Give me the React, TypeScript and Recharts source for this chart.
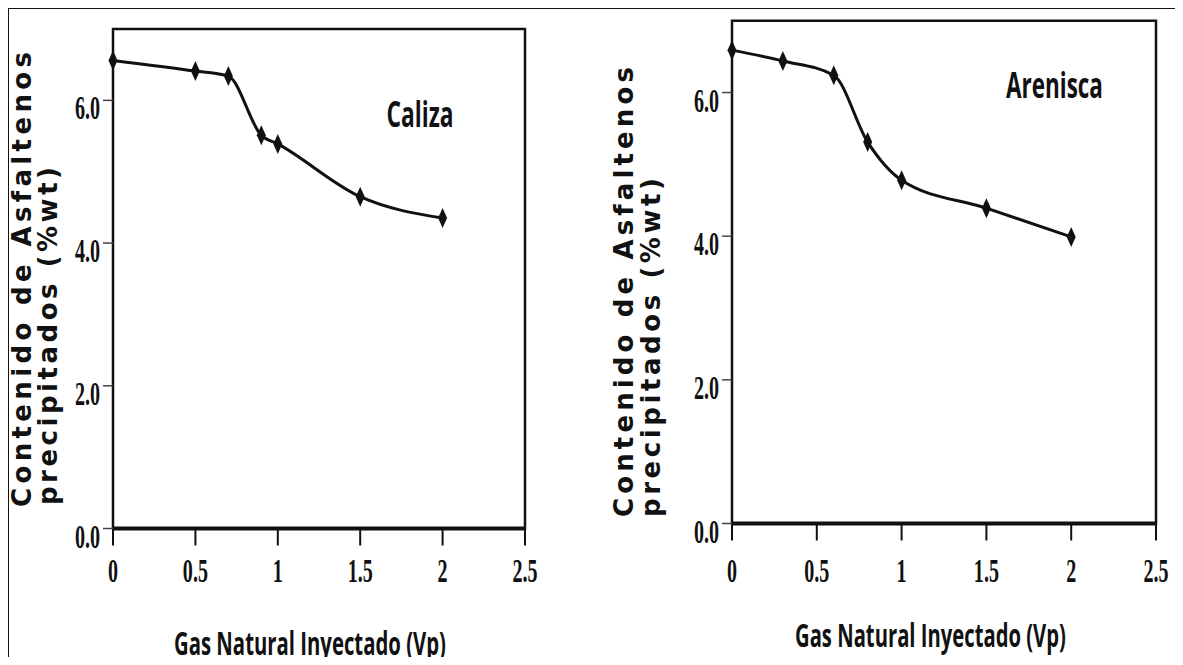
import React from "react";
import { LineChart, Line, XAxis, YAxis, ReferenceArea } from "recharts";

// ---- data ----
const calizaX = [0, 0.5, 0.7, 0.9, 1.0, 1.5, 2.0];
const calizaY = [6.56, 6.41, 6.34, 5.51, 5.39, 4.65, 4.35];
const areniscaX = [0, 0.3, 0.6, 0.8, 1.0, 1.5, 2.0];
const areniscaY = [6.59, 6.44, 6.24, 5.31, 4.78, 4.39, 3.99];
const xTicks = [0, 0.5, 1, 1.5, 2, 2.5];
const yTicks = [0, 2, 4, 6];
const yLabelLine1 = "Contenido de Asfaltenos";
const yLabelLine2 = "precipitados (%wt)";
const xLabel = "Gas Natural Inyectado (Vp)";

const calizaData = calizaX.map((x, i) => ({ x, y: calizaY[i] }));
const areniscaData = areniscaX.map((x, i) => ({ x, y: areniscaY[i] }));

const INK = "#111";
const TITLE_FONT = "'Open Sans', sans-serif";

let measureCtx: CanvasRenderingContext2D | null = null;
const measure = (text: string, font: string, fallback: number) => {
  try {
    if (!measureCtx) measureCtx = document.createElement("canvas").getContext("2d");
    if (!measureCtx) return fallback;
    measureCtx.font = font;
    const w = measureCtx.measureText(text).width;
    return w > 0 ? w : fallback;
  } catch (e) {
    return fallback;
  }
};

const Diamond = (p: any) => {
  const { cx, cy, index } = p;
  if (cx == null || cy == null) return <g key={index} />;
  return (
    <path
      key={index}
      d={`M${cx},${cy - 10} L${cx + 4.5},${cy} L${cx},${cy + 10} L${cx - 4.5},${cy} Z`}
      fill={INK}
    />
  );
};

const makeYTick = () => (p: any) => {
  const { x, y, payload } = p;
  return (
    <text
      transform={`translate(${x},${y + 19}) scale(0.59,1)`}
      textAnchor="end"
      fontFamily="'Liberation Serif', serif"
      fontWeight="bold"
      fontSize={34}
      fill={INK}
    >
      {Number(payload.value).toFixed(1)}
    </text>
  );
};

const makeXTick = (offset: number) => (p: any) => {
  const { x, y, payload } = p;
  return (
    <text
      transform={`translate(${x},${y + offset}) scale(0.59,1)`}
      textAnchor="middle"
      fontFamily="'Liberation Serif', serif"
      fontWeight="bold"
      fontSize={34}
      fill={INK}
    >
      {String(payload.value)}
    </text>
  );
};

const FitText = (p: { text: string; x: number; y: number; len: number; size: number }) => {
  const natural = measure(p.text, `700 ${p.size}px 'Open Sans'`, p.len / 0.6);
  const sx = p.len / natural;
  return (
    <text
      transform={`translate(${p.x},${p.y}) scale(${sx},1)`}
      fontFamily={TITLE_FONT}
      fontWeight={700}
      fontSize={p.size}
      fill={INK}
    >
      {p.text}
    </text>
  );
};

type PanelProps = {
  data: { x: number; y: number }[];
  left: number;
  width: number;
  height: number;
  margin: { top: number; right: number; bottom: number; left: number };
  yAxisWidth: number;
  xTickOffset: number;
  name: string;
  nameX: number;
  nameY: number;
  nameLen: number;
  yl1: { x: number; y: number; len: number };
  yl2: { x: number; y: number; len: number };
  xl: { x: number; y: number; len: number };
};

const Panel = (props: PanelProps) => {
  const { data, left, width, height, margin, yAxisWidth, xTickOffset } = props;
  return (
    <div style={{ position: "absolute", left, top: 0, width, height }}>
      <LineChart width={width} height={height} data={data} margin={margin}>
        <ReferenceArea
          x1={0}
          x2={2.5}
          y1={0}
          y2={7}
          fill="none"
          fillOpacity={0}
          stroke={INK}
          strokeWidth={2.5}
          ifOverflow="visible"
        />
        <XAxis
          dataKey="x"
          type="number"
          domain={[0, 2.5]}
          ticks={xTicks}
          interval={0}
          height={60}
          tickSize={17}
          tickMargin={0}
          axisLine={{ stroke: INK, strokeWidth: 4 }}
          tickLine={{ stroke: INK, strokeWidth: 2 }}
          tick={makeXTick(xTickOffset)}
        />
        <YAxis
          type="number"
          domain={[0, 7]}
          ticks={yTicks}
          interval={0}
          width={yAxisWidth}
          tickSize={10}
          tickMargin={3}
          axisLine={{ stroke: INK, strokeWidth: 2 }}
          tickLine={{ stroke: "#444", strokeWidth: 1.5 }}
          tick={makeYTick()}
        />
        <Line
          type="monotone"
          dataKey="y"
          stroke={INK}
          strokeWidth={3}
          dot={Diamond}
          activeDot={false}
          isAnimationActive={false}
        />
      </LineChart>
      <svg
        width={width}
        height={657}
        style={{ position: "absolute", left: 0, top: 0, pointerEvents: "none", overflow: "visible" }}
      >
        <text
          transform={`translate(${props.yl1.x},${props.yl1.y}) rotate(-90)`}
          textAnchor="start"
          fontFamily="'DejaVu Sans', sans-serif"
          fontWeight="bold"
          fontSize={26}
          fill={INK}
          textLength={props.yl1.len}
          lengthAdjust="spacing"
        >
          {yLabelLine1}
        </text>
        <text
          transform={`translate(${props.yl2.x},${props.yl2.y}) rotate(-90)`}
          textAnchor="start"
          fontFamily="'DejaVu Sans', sans-serif"
          fontWeight="bold"
          fontSize={26}
          fill={INK}
          textLength={props.yl2.len}
          lengthAdjust="spacing"
        >
          {yLabelLine2}
        </text>
        <FitText text={xLabel} x={props.xl.x} y={props.xl.y} len={props.xl.len} size={32} />
        <FitText text={props.name} x={props.nameX} y={props.nameY} len={props.nameLen} size={36} />
      </svg>
    </div>
  );
};

export default function App() {
  return (
    <div style={{ position: "relative", width: 1168, height: 649 }}>
      <div
        style={{
          position: "absolute",
          left: -1,
          top: -1,
          width: 1170,
          height: 658,
          boxSizing: "border-box",
          border: "2px solid #111",
          borderBottom: "none",
        }}
      />
      <Panel
        data={calizaData}
        left={0}
        width={580}
        height={649}
        margin={{ top: 21, right: 63, bottom: 68.5, left: 0 }}
        yAxisWidth={105}
        xTickOffset={36.5}
        name="Caliza"
        nameX={378.5}
        nameY={119}
        nameLen={67}
        yl1={{ x: 23, y: 499, len: 455 }}
        yl2={{ x: 49, y: 497, len: 338 }}
        xl={{ x: 166, y: 647, len: 272 }}
      />
      <Panel
        data={areniscaData}
        left={580}
        width={588}
        height={649}
        margin={{ top: 12.7, right: 20, bottom: 73.5, left: 0 }}
        yAxisWidth={144}
        xTickOffset={41.5}
        name="Arenisca"
        nameX={418}
        nameY={90}
        nameLen={97}
        yl1={{ x: 45, y: 509, len: 450 }}
        yl2={{ x: 72, y: 509, len: 339 }}
        xl={{ x: 207, y: 639, len: 271 }}
      />
    </div>
  );
}
